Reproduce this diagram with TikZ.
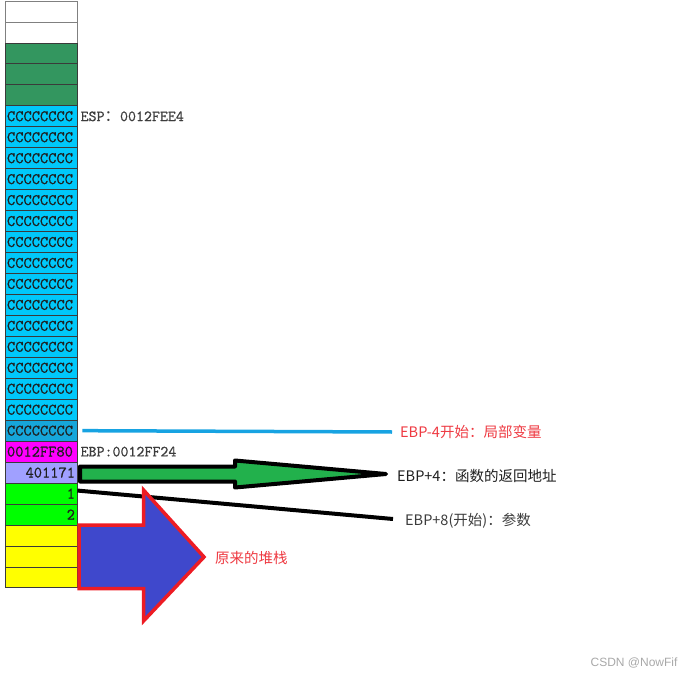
\documentclass[tikz,border=0pt]{standalone}
\usepackage{fontspec}
\newfontfamily\cjk{Noto Sans CJK SC}
\newfontfamily\wmfont{Liberation Sans}
\newfontfamily\slotfont[FakeBold=0.8]{Latin Modern Mono}
\usetikzlibrary{positioning}
\definecolor{ink}{HTML}{1E1E1E}
\definecolor{grayink}{HTML}{3C3C3C}
\definecolor{rim}{HTML}{3A3A3A}
\definecolor{savedgreen}{HTML}{33965F}
\definecolor{localcyan}{HTML}{00C8FA}
\definecolor{localdark}{HTML}{16A6DA}
\definecolor{ebpmagenta}{HTML}{FF00FF}
\definecolor{retlilac}{HTML}{A0A0FF}
\definecolor{arggreen}{HTML}{00FF00}
\definecolor{oldyellow}{HTML}{FFFF00}
\definecolor{paintgreen}{HTML}{22B14C}
\definecolor{paintblue}{HTML}{3F48CC}
\definecolor{paintred}{HTML}{ED1C24}
\definecolor{linecyan}{HTML}{17A3E2}
\definecolor{notered}{HTML}{EE3A42}
\definecolor{wmgray}{HTML}{A8A8A8}
\tikzset{
  slot/.style={
    draw=rim,
    line width=.8pt,
    minimum height=20.96pt,
    text width=68pt,
    inner xsep=2pt,
    inner ysep=0pt,
    align=left,
    font=\slotfont\fontsize{16}{17}\selectfont,
    text=ink
  },
  blankslot/.style={slot,draw=black!50,fill=white},
  savedslot/.style={slot,fill=savedgreen},
  localslot/.style={slot,fill=localcyan},
  ebpslot/.style={slot,fill=ebpmagenta},
  retslot/.style={slot,fill=retlilac,align=right},
  argslot/.style={slot,fill=arggreen,align=right},
  oldslot/.style={slot,fill=oldyellow},
  regLabel/.style={font=\slotfont\fontsize{15.5}{17}\selectfont,text=grayink,inner sep=0pt},
  noteLabel/.style={font=\cjk\fontsize{14.5}{17}\selectfont,inner sep=0pt,anchor=west},
  stackline/.style={draw=linecyan,line width=3.5pt},
  argline/.style={draw=black,line width=4pt},
  retarrow/.style={draw=black,line width=4pt,line join=round,fill=paintgreen},
  stackarrow/.style={draw=paintred,line width=3.5pt,line join=miter,fill=paintblue}
}
\begin{document}
\begin{tikzpicture}[x=1pt,y=1pt]
  \useasboundingbox (0,0) rectangle (693,-679);

  % the stack column, one slot per row, top to bottom
  \node[blankslot] (blank1) at (41,-11.48) {};
  \node[blankslot] (blank2) at (41,-32.44) {};
  \node[savedslot] (saved1) at (41,-53.40) {};
  \node[savedslot] (saved2) at (41,-74.36) {};
  \node[savedslot] (saved3) at (41,-95.32) {};
  \foreach \k in {1,...,15}
    \node[localslot] (local\k) at (41,{-95.32-20.96*\k}) {CCCCCCCC};
  \node[localslot,fill=localdark] (local16) at (41,-430.68) {CCCCCCCC};
  \node[ebpslot] (oldebp) at (41,-451.64) {0012FF80};
  \node[retslot] (retaddr) at (41,-472.60) {401171};
  \node[argslot] (arg1) at (41,-493.56) {1};
  \node[argslot] (arg2) at (41,-514.52) {2};
  \node[oldslot] (old1) at (41,-535.48) {};
  \node[oldslot] (old2) at (41,-556.44) {};
  \node[oldslot] (old3) at (41,-577.40) {};

  \node[regLabel,right=3pt of local1] (espLabel) {ESP{\cjk ：}0012FEE4};
  \node[regLabel,right=3pt of oldebp] (ebpLabel) {EBP:0012FF24};

  \node[noteLabel,text=notered] (lblLocal) at (400,-432) {EBP-4开始：局部变量};
  \node[noteLabel,text=ink] (lblRet) at (397,-476) {EBP+4：函数的返回地址};
  \node[noteLabel,text=grayink] (lblArgs) at (405,-521) {EBP+8(开始)：参数};
  \node[noteLabel,text=notered] (lblOld) at (215,-558) {原来的堆栈};

  \draw[stackline] ([xshift=5pt]local16.east) -- ([xshift=-8pt]lblLocal.west);
  \draw[argline] ([yshift=3pt]arg1.east) -- ([xshift=-12pt,yshift=2pt]lblArgs.west);

  % hand drawn arrows
  \draw[retarrow] (80,-466.5) -- (235,-466.5) -- (235,-460.5) -- (386,-474)
    -- (235,-487.5) -- (235,-481.5) -- (80,-481.5) -- cycle;
  \draw[stackarrow] (79,-525) -- (143.5,-525) -- (143.5,-490) -- (204,-557)
    -- (143.5,-621) -- (143.5,-588.5) -- (79,-588.5) -- cycle;

  \node[font=\wmfont\fontsize{12}{14}\selectfont,text=wmgray,anchor=east] (mark)
    at (681,-663) {CSDN @NowFif};
\end{tikzpicture}
\end{document}
